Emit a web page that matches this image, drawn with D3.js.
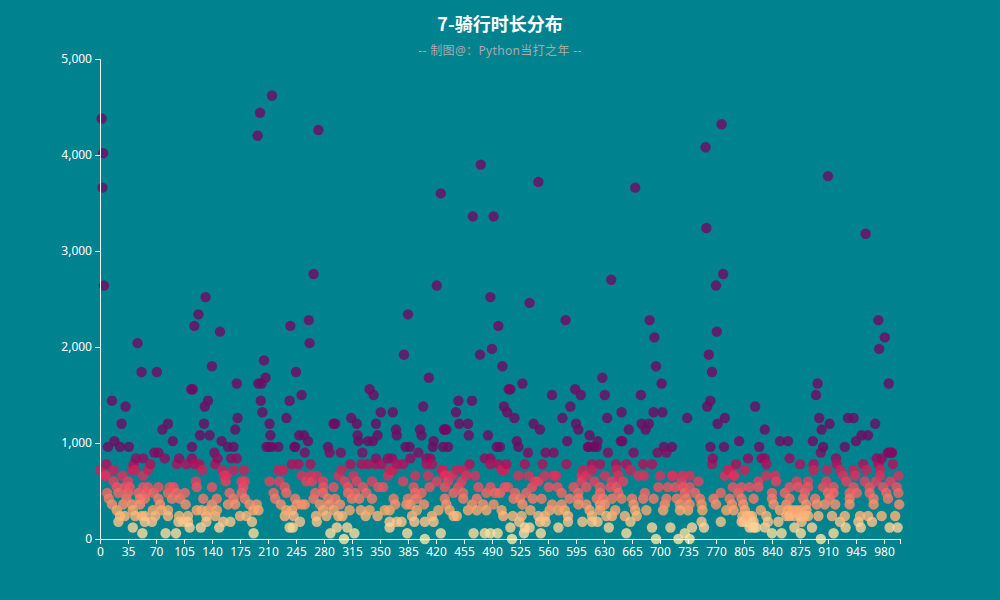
<!DOCTYPE html>
<html><head><meta charset="utf-8">
<script src="https://cdn.jsdelivr.net/npm/d3@7"></script>
<style>html,body{margin:0;padding:0;background:#00838f}svg{display:block}</style>
</head><body><svg id="c" width="1000" height="600"></svg>
<script>
const chartTitle = "7-骑行时长分布";
const chartSubtitle = "-- 制图@：Python当打之年 --";
const yTicks = [0, 1000, 2000, 3000, 4000, 5000];
const xLabels = d3.range(0, 981, 35);
const colorStops = [0, 120, 300, 450, 600, 700, 780, 840, 960];
const colorRange = ["#ffe6a0", "#ffd397", "#ffa76c", "#f87066", "#ea4060", "#da2459", "#b50f5b", "#960a60", "#720a62"];

// rides with a duration above 960 s: [ride index, seconds]
const longRidesA = [[2,4380],[4,4020],[3,3660],[5,2640],[197,4200],[200,4440],[215,4620],[273,4260],[132,2520],[123,2340],[118,2220],[150,2160],[238,2220],[47,2040],[52,1740],[71,1740],[140,1800],[171,1620],[205,1860],[207,1680],[198,1620],[202,1620],[245,1740],[114,1560],[116,1560],[15,1440],[135,1440],[131,1380],[32,1380],[201,1440],[237,1440],[203,1320],[172,1260],[169,1140],[130,1200],[27,1200],[85,1200],[78,1140],[212,1200],[233,1260],[125,1080],[137,1080],[213,1080],[249,1080],[18,1020],[91,1020],[152,1020]];
const longRidesB = [[426,3600],[466,3360],[492,3360],[476,3900],[267,2760],[421,2640],[488,2520],[385,2340],[498,2220],[261,2280],[262,2040],[490,1980],[475,1920],[380,1920],[503,1800],[411,1680],[337,1560],[342,1500],[252,1500],[511,1560],[448,1440],[465,1440],[404,1380],[505,1380],[509,1320],[351,1320],[366,1320],[445,1320],[314,1260],[292,1200],[294,1200],[321,1200],[345,1200],[449,1200],[460,1200],[370,1140],[400,1140],[430,1140],[433,1140],[431,1140],[322,1080],[347,1080],[371,1080],[402,1080],[461,1080],[485,1080],[323,1020],[335,1020],[341,1020],[417,1020],[260,1020],[255,1080]];
const longRidesC = [[548,3720],[669,3660],[758,3240],[639,2700],[537,2460],[582,2280],[687,2280],[693,2100],[695,1800],[628,1680],[528,1620],[702,1620],[513,1560],[594,1560],[565,1500],[601,1500],[631,1500],[676,1500],[588,1380],[652,1320],[692,1320],[703,1320],[518,1260],[578,1260],[634,1260],[734,1260],[542,1200],[595,1200],[677,1200],[686,1200],[550,1140],[598,1140],[661,1140],[682,1140],[612,1080],[584,1020],[521,1020],[622,1020],[651,1020],[653,1020]];
const longRidesD = [[757,4080],[777,4320],[910,3780],[957,3180],[779,2760],[770,2640],[771,2160],[973,2280],[981,2100],[974,1980],[761,1920],[765,1740],[897,1620],[986,1620],[895,1500],[763,1440],[759,1380],[819,1380],[781,1260],[899,1260],[935,1260],[942,1260],[772,1200],[912,1200],[969,1200],[831,1140],[902,1140],[952,1080],[960,1080],[945,1020],[799,1020],[850,1020],[860,1020],[891,1020]];

const at960 = [10,25,36,115,160,167,208,211,215,223,243,244,285,382,387,416,429,435,496,500,523,610,611,617,621,705,715,763,780,824,904,931];
const at900 = [68,73,143,256,287,301,328,398,535,557,567,635,667,697,708,901,985,987,989,990];
const at840 = [45,54,81,99,115,147,164,171,345,360,365,388,408,413,481,488,766,810,827,831,862,920,971,977];
const at780 = [8,42,63,96,108,118,124,144,240,248,263,313,327,335,344,352,371,379,408,415,462,488,498,508,531,553,583,615,625,645,658,679,690,765,795,833,875,892,921,954,973,991];
const at720 = [0,17,40,44,60,128,153,167,180,223,229,302,362,367,427,429,446,454,502,506,604,615,645,663,785,787,806,892,909,925,942,958,975];
const at660 = [6,7,28,54,155,158,252,263,271,298,317,360,394,410,431,433,440,458,469,523,536,556,567,570,602,608,631,648,673,680,700,715,716,728,737,781,792,793,833,844,929,944,975,998];
const at600 = [17,35,120,157,177,181,212,224,258,265,279,306,321,340,379,421,435,452,544,548,602,618,640,654,727,748,823,845,871,885,908,933,956,970,988];
const at540 = [21,31,37,54,60,73,87,92,121,140,179,231,279,292,310,329,348,354,392,412,431,448,473,488,506,510,540,561,572,592,608,625,638,646,698,710,719,729,737,791,802,812,823,862,873,885,904,917,942,962,979,996];
const at480 = [9,23,35,48,58,67,85,96,106,162,177,217,233,269,279,310,319,333,394,402,442,454,483,494,500,519,533,577,598,625,648,681,731,744,776,798,840,856,881,910,917,937,946,962,983,998];
const at420 = [11,33,50,56,73,90,100,129,146,167,181,219,244,267,285,294,315,324,340,367,385,396,431,454,471,517,525,541,552,587,598,621,629,640,652,665,679,692,708,721,733,750,767,787,802,817,840,862,879,894,912,937,967,985];
const at360 = [15,29,40,50,75,107,140,160,169,187,196,226,246,252,256,275,287,300,369,383,388,405,433,465,479,492,528,565,577,598,608,625,631,667,706,725,737,752,770,790,804,842,858,883,896,906,919,937,967,999];
const at300 = [21,41,66,77,85,121,127,135,146,192,198,233,240,279,292,312,326,337,356,362,396,423,437,460,471,483,502,538,562,573,581,612,625,644,669,683,704,725,735,753,783,792,806,826,850,860,866,871,876,883];
const at240 = [25,31,44,52,56,69,85,99,110,133,144,175,183,231,242,270,283,298,303,332,347,390,415,442,446,504,516,527,548,556,585,615,633,640,656,671,803,808,812,815,833,858,862,868,875,880,885,898,915,931,950,960,977,994];
const at180 = [23,56,65,98,104,110,133,154,163,190,250,271,362,371,377,393,406,417,524,550,557,585,603,615,622,663,752,776,802,805,810,814,817,835,848,877,925,948,965];
const at120 = [41,112,126,149,237,241,296,309,362,513,531,537,573,636,690,713,740,755,812,817,820,831,868,890,932,951,987,997];
const at60 = [53,82,95,192,288,318,384,426,467,481,488,497,530,551,658,731,840,852,876,917];
const at0 = [305,406,515,695,723,737,901];

const longRides = [...longRidesA, ...longRidesB, ...longRidesC, ...longRidesD];
const shortRows = [[960,at960],[900,at900],[840,at840],[780,at780],[720,at720],[660,at660],[600,at600],[540,at540],[480,at480],[420,at420],[360,at360],[300,at300],[240,at240],[180,at180],[120,at120],[60,at60],[0,at0]];
const rides = [...longRides, ...shortRows.flatMap(([v, ids]) => ids.map(i => [i, v]))].sort((a, b) => a[0] - b[0]);

const svg = d3.select("#c");
const font = "'Noto Sans','Noto Sans CJK SC',sans-serif";
const x = d3.scaleLinear().domain([0, 1000]).range([100, 900]);
const y = d3.scaleLinear().domain([0, 5000]).range([539, 59]);
const color = d3.scaleLinear().domain(colorStops).range(colorRange).clamp(true);

svg.append("g").selectAll("circle").data(rides).join("circle")
  .attr("cx", d => x(d[0])).attr("cy", d => y(d[1])).attr("r", 5.2)
  .attr("fill", d => color(d[1])).attr("opacity", 0.8);

const gx = svg.append("g").attr("transform", "translate(0,539)")
  .call(d3.axisBottom(x).tickValues([...xLabels, 1000]).tickSize(5).tickPadding(3).tickFormat(d => d === 1000 ? "" : d));
const gy = svg.append("g").attr("transform", "translate(100,0)")
  .call(d3.axisLeft(y).tickValues(yTicks).tickSize(5).tickPadding(3).tickFormat(d3.format(",")));
[gx, gy].forEach(g => {
  g.selectAll("path,line").attr("stroke", "#fff");
  g.selectAll("text").attr("fill", "#fff").style("font-family", font).style("font-size", "12px");
});

svg.append("text").attr("x", 500).attr("y", 31).attr("text-anchor", "middle")
  .attr("fill", "#fff").style("font-family", "'Noto Sans CJK SC',sans-serif").style("font-size", "18px").style("font-weight", "bold").text(chartTitle);
svg.append("text").attr("x", 500).attr("y", 54.5).attr("text-anchor", "middle").style("letter-spacing", "0.35px")
  .attr("fill", "#aaa").style("font-family", font).style("font-size", "12px").text(chartSubtitle);
</script></body></html>
